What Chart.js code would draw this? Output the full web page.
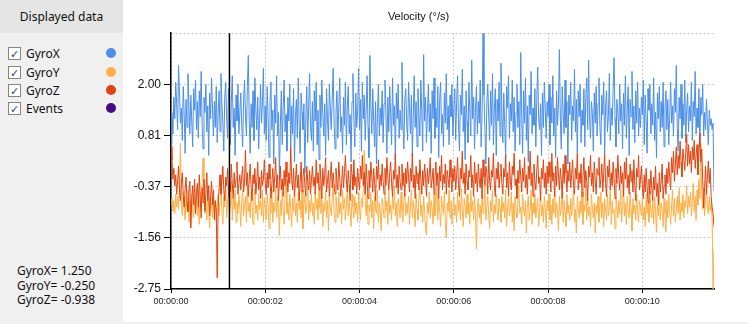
<!DOCTYPE html>
<html>
<head>
<meta charset="utf-8">
<script src="https://cdn.jsdelivr.net/npm/chart.js@4/dist/chart.umd.min.js"></script>
<style>
  html, body { margin: 0; padding: 0; }
  body {
    width: 748px; height: 324px; position: relative; overflow: hidden;
    background: #f0f0f0; font-family: "Noto Sans", "DejaVu Sans", sans-serif;
  }
  #panel { position: absolute; left: 0; top: 0; width: 123px; height: 324px; background: #f0f0f0; }
  #panel .head {
    height: 33px; line-height: 33px; background: #e5e5e5; text-align: center;
    font-size: 12px; color: #111;
  }
  .row { position: absolute; left: 8px; height: 14px; width: 110px; font-size: 12px; color: #111; }
  .box {
    position: absolute; left: 0; top: 0; width: 11px; height: 11px;
    border: 1px solid #858585; background: #fff; font-size: 11px; line-height: 11px;
    font-weight: bold; text-align: center; color: #2b3f8c;
  }
  .row .lbl { position: absolute; left: 18px; top: -2px; }
  .dot { position: absolute; left: 98px; top: 1px; width: 10px; height: 10px; border-radius: 50%; }
  #readout { position: absolute; left: 17px; top: 264px; font-size: 12px; line-height: 14.5px; color: #111; }
  #plot { position: absolute; left: 123px; top: 0; width: 625px; height: 322px; background: #fff; }
</style>
</head>
<body>
<div id="panel">
  <div class="head">Displayed data</div>
  <div id="legendRows"></div>
  <div id="readout"></div>
</div>
<div id="plot"><canvas id="velocity"></canvas></div>
<script>
// sample period of the recording, seconds
const samplePeriod = 0.02;

const seriesNames = ['GyroX', 'GyroY', 'GyroZ'];
const seriesColors = ['#4a8fe8', '#fdb045', '#e1440f'];
const eventColor = '#4b0a82';

// times (s) of the event markers
const eventTimes = [1.24];

const xTickValues = [0, 2, 4, 6, 8, 10];
const xTickLabels = ['00:00:00', '00:00:02', '00:00:04', '00:00:06', '00:00:08', '00:00:10'];
const yTickValues = [-2.75, -1.5625, -0.375, 0.8125, 2.0, 3.1875];
const yTickLabels = ['-2.75', '-1.56', '-0.37', '0.81', '2.00', ''];

const readoutValues = ['1.250', '-0.250', '-0.938'];

// one row = 0.5 s
const gyroX = [
  0.60, 1.35, 0.85, 1.70, 1.20, 2.05, 1.55, 0.95, 2.44, 1.80, 1.10, 1.45, 0.70, 1.95, 1.30, 0.40, 1.65, 1.00, 2.25, 1.50, 0.85, 1.75, 1.15, 0.55, 1.90,
  1.40, 2.10, 0.95, 1.60, 0.75, 1.85, 1.25, 2.30, 1.05, 0.50, 1.70, 1.35, 2.00, 0.90, 1.50, 0.35, 1.80, 1.20, 2.15, 1.45, 0.80, 1.60, 1.00, 1.95, 0.65,
  1.30, 1.85, 0.90, 2.25, 1.55, 1.10, 0.45, 1.70, 2.05, 1.25, 0.75, 1.90, 1.40, 0.60, 1.60, 2.20, 1.00, 1.45, 0.35, 1.75, 1.15, 2.00, 0.85, 1.35, 1.80,
  1.05, 0.55, 1.65, 2.10, 1.30, 0.80, 1.95, 2.67, 1.15, 0.40, 1.55, 1.00, 1.85, 0.70, 2.15, 1.40, 0.95, 1.70, 0.50, 1.25, 2.00, 1.10, 1.60, 2.37, 0.85,
  1.50, 0.70, 1.95, 1.20, 0.30, 1.60, 2.05, 0.95, 1.40, 0.15, 1.75, 1.10, 2.20, 0.80, 1.35, -0.20, 1.05, 1.85, 0.60, 1.45, 2.10, 0.90, 1.30, 0.45, 1.70,
  1.15, 2.00, 0.55, 1.50, 0.85, 1.90, 0.20, 1.25, 1.65, 0.75, 2.15, 1.05, 0.40, 1.80, 1.35, 0.95, 1.55, -0.05, 1.20, 1.95, 0.65, 1.45, 2.25, 1.00, 0.70,
  1.60, 0.45, 1.85, 1.15, 2.05, 0.60, 1.40, 0.25, 1.75, 1.00, 2.10, 1.30, 0.80, 1.55, 0.35, 1.90, 1.20, 0.70, 2.00, 1.45, 0.95, 1.65, 2.37, 1.10, 0.50,
  1.35, 1.85, 0.75, 1.50, 2.15, 0.90, 1.25, 0.40, 1.70, 1.05, 2.05, 0.60, 1.45, 1.95, 0.85, 1.30, 0.20, 1.60, 2.25, 1.15, 0.55, 1.80, 1.00, 1.40, 2.37,
  0.95, 1.65, 0.45, 2.05, 1.20, 1.75, 0.70, 1.40, 2.20, 1.00, 0.30, 2.67, 1.50, 0.85, 1.90, 1.15, 0.55, 1.60, 0.15, 1.35, 2.00, 0.80, 1.45, 1.05, 1.85,
  0.65, 1.55, 2.10, 1.25, 0.40, 1.70, 0.90, 1.95, 1.30, 0.60, 2.15, 1.05, 1.50, 0.25, 1.80, 1.20, 2.00, 0.75, 1.40, 0.95, 2.51, 1.15, 0.50, 1.65, 1.90,
  1.10, 0.70, 2.05, 1.45, 0.85, 1.75, 0.35, 1.30, 2.20, 1.00, 1.60, 0.55, 1.90, 1.25, 0.80, 2.10, 1.40, 0.45, 2.69, 1.15, 1.70, 0.65, 1.35, 2.00, 0.90,
  1.55, 0.40, 1.85, 1.20, 2.15, 0.75, 1.45, 1.00, 1.95, 0.30, 1.65, 2.05, 0.85, 1.30, 0.55, 1.80, 1.10, 2.25, 0.95, 1.50, 0.60, 1.75, 1.25, 2.00, 0.80,
  1.40, 1.90, 0.70, 1.60, 2.20, 1.05, 0.45, 1.75, 1.30, 2.35, 0.90, 1.50, 0.25, 1.85, 1.15, 0.65, 2.05, 1.35, 0.80, 2.56, 1.20, 1.70, 0.50, 1.45, 1.95,
  0.85, 1.60, 1.10, 2.10, 0.55, 1.35, 3.19, 1.75, 0.95, 0.15, 1.55, 2.00, 1.25, 0.70, 1.85, 1.05, 2.25, 0.60, 1.40, 1.90, 0.35, 1.65, 1.15, 2.05, 0.80,
  2.49, 1.30, 0.65, 1.80, 1.05, 0.30, 1.95, 1.45, 2.20, 0.75, 1.55, 1.15, 2.10, 0.90, 1.70, 0.45, 1.35, 2.00, 1.00, 1.60, 0.60, 2.74, 1.25, 0.40, 1.85,
  1.10, 2.15, 0.70, 1.50, 0.20, 1.75, 1.30, 2.30, 0.85, 1.45, 1.05, 1.90, 0.55, 1.65, 2.40, 1.20, 0.95, 1.55, 0.35, 1.80, 1.00, 2.05, 1.40, 0.75, 1.60,
  1.25, 2.00, 0.60, 1.70, 1.10, 2.20, 0.80, 1.45, 0.30, 1.85, 1.05, 1.55, 2.81, 1.20, 0.50, 1.95, 1.35, 0.85, 2.10, 1.00, 1.60, 0.15, 1.75, 1.30, 2.05,
  0.70, 1.50, 1.15, 2.35, 0.90, 1.65, 0.40, 1.85, 1.25, 2.00, 0.65, 1.40, 1.05, 1.90, 0.55, 1.70, 2.15, 0.95, 2.56, 1.20, 0.75, 1.60, 1.35, 0.45, 1.80,
  1.10, 1.95, 0.80, 1.55, 2.15, 1.00, 0.60, 1.75, 1.30, 2.05, 0.40, 1.50, 1.85, 0.90, 1.25, 2.25, 0.70, 1.45, 1.05, 1.90, 2.62, 1.20, 0.55, 1.65, 1.35,
  0.85, 2.00, 1.15, 1.55, 0.50, 1.80, 1.05, 2.20, 0.75, 1.40, 1.95, 0.35, 1.65, 1.25, 2.30, 0.95, 1.50, 0.65, 1.85, 1.10, 2.05, 0.80, 1.45, 1.00, 1.70,
  1.30, 2.10, 0.60, 1.75, 1.15, 0.40, 1.90, 1.40, 2.00, 0.85, 1.55, 1.05, 2.15, 0.70, 1.35, 0.30, 1.80, 1.20, 1.95, 0.90, 1.60, 1.00, 2.05, 0.55, 1.45,
  1.85, 0.95, 1.65, 0.60, 1.25, 2.05, 1.10, 1.50, 0.80, 1.90, 1.35, 2.44, 1.00, 0.45, 1.70, 1.20, 2.00, 0.75, 1.55, 1.05, 2.10, 0.65, 1.40, 1.80, 0.90,
  1.50, 1.15, 2.05, 0.70, 1.60, 1.25, 2.30, 0.85, 1.45, 1.00, 1.90, 0.55, 1.70, 1.30, 2.00, 0.80, 1.35, 0.95, 1.65, 1.10, 0.60, 1.40, 1.05, 1.20, 0.95,
  1.10, -0.48
];

const gyroY = [
  -0.80, -0.65, -0.95, -0.70, -1.00, -0.55, -0.85, -0.60, -0.90, -0.40, 0.63, -0.75, -1.05, -0.50, -0.85, -1.15, -0.60, -0.95, -0.45, -1.20, -0.70, -1.30, -0.55, -0.90, -1.10,
  -0.65, -0.95, -0.40, -1.05, -0.75, -1.25, -0.50, -0.85, -0.30, 0.29, -0.60, -1.00, -0.70, -1.15, -0.45, -0.90, -1.33, -0.65, -0.80, -1.10, -0.50, -0.95, -0.70, -1.20, -0.85,
  -0.55, -1.05, -0.75, -0.40, -0.95, -1.25, -0.60, -0.85, -0.30, -1.10, -0.70, -0.50, -1.00, -0.80, -0.25, -1.15, -0.65, -0.90, -0.45, -1.20, -0.75, -1.00, -0.55, -0.85, -1.30,
  -0.70, -0.45, -1.05, -0.80, -0.60, -1.20, -0.35, -0.95, -0.75, -1.10, -0.50, -0.85, -1.25, -0.65, -0.40, -1.00, -0.80, -1.15, -0.55, -0.90, -0.70, -1.05, -0.45, -1.20, -0.65,
  -0.90, -1.15, -0.55, -0.80, -1.35, -0.65, -1.00, -0.45, -1.20, -0.75, -0.95, -0.35, -1.10, -0.60, -0.85, -1.50, -0.70, -1.05, -0.50, -0.90, -1.25, -0.60, -0.20, -1.00, -0.75,
  -1.15, -0.55, -0.85, -1.30, -0.65, -0.95, -0.40, -1.05, -0.75, -1.20, -0.50, -0.90, -0.70, -1.10, -0.45, -1.35, -0.80, -0.60, -1.00, -0.85, -0.35, -1.15, -0.70, -0.95, -0.55,
  -1.05, -0.75, -1.25, -0.50, -0.90, -0.65, -1.15, -0.40, -0.85, -1.00, -0.60, -1.30, -0.75, -0.95, -0.45, -1.10, -0.70, -1.40, -0.55, -0.85, -1.05, -0.65, -0.30, -0.95, -1.20,
  -0.60, -0.85, -1.10, -0.50, -1.00, -0.75, -1.25, -0.45, -0.90, -0.65, -1.15, -0.80, -0.35, -1.05, -0.70, -0.95, -1.30, -0.55, -0.85, -1.10, -0.60, -1.00, -0.75, -1.20, -0.50,
  -0.90, -1.15, -0.65, -0.85, -0.40, 0.47, -0.70, -1.05, -0.55, -1.25, -0.80, -0.95, -0.50, -1.10, -0.70, -1.35, -0.60, -0.90, -1.00, -0.45, -1.20, -0.75, -0.95, -1.40, -0.65,
  -0.85, -1.10, -0.55, -0.95, -0.70, -1.25, -0.45, -1.00, -0.80, -1.15, -0.60, -0.90, -0.35, -1.05, -0.75, -1.30, -0.65, -0.85, -1.10, -0.50, -0.95, -1.20, -0.70, -0.55, -1.05,
  -0.75, -1.00, -0.60, -1.25, -0.85, -0.45, -1.10, -0.70, -0.95, -1.30, -0.55, -0.90, -1.15, -0.65, -0.40, -1.05, -0.80, -1.20, -0.60, -0.95, -1.35, -1.50, -0.75, -1.00, -0.50,
  -1.10, -0.70, -0.90, -1.25, -0.55, -1.05, -0.80, -0.35, -1.15, -0.65, -0.95, -1.30, -0.60, -0.85, -1.00, -0.50, -1.20, -1.56, -0.75, -0.95, -0.45, -1.10, -0.70, -1.25, -0.85,
  -0.60, -1.05, -0.80, -1.20, -0.50, -0.95, -0.70, -1.15, -0.40, -0.90, -1.30, -0.65, -0.85, -1.10, -0.55, -1.00, -0.75, -1.25, -0.45, -0.95, -0.70, -1.15, -0.60, -1.05, -1.82,
  -0.90, -0.65, -1.10, -0.80, -1.25, -0.50, -1.00, -0.75, -0.35, -1.15, -0.85, -0.60, -1.05, -1.35, -0.70, -0.95, -0.45, -1.20, -0.80, -1.00, -0.55, -0.90, -1.15, -0.65, -0.85,
  -1.20, -0.60, -0.95, -0.75, -1.10, -0.45, -1.30, -0.85, -0.65, -1.05, -0.90, -0.50, -1.20, -0.75, -1.40, -0.60, -0.95, -1.10, -0.70, -0.35, -1.00, -0.85, -1.25, -0.55, -0.90,
  -1.05, -0.70, -1.45, -0.80, -0.60, -1.15, -0.90, -0.45, -1.25, -0.75, -1.00, -0.55, -1.10, -0.85, -0.65, -1.30, -0.95, -0.50, -1.05, -0.80, -1.20, -0.60, -0.90, -1.35, -0.70,
  -0.95, -0.55, -1.15, -0.80, -1.25, -0.65, -1.00, -0.40, -1.10, -0.75, -0.90, -1.40, -0.60, -1.05, -0.85, -0.50, -1.20, -0.70, -0.95, -1.30, -0.55, -1.00, -0.80, -1.15, -0.65,
  -1.05, -0.75, -0.45, -1.20, -0.90, -1.45, -0.60, -0.85, -1.10, -0.70, -1.00, -0.50, -1.25, -0.80, -0.95, -0.35, -1.15, -0.65, -1.05, -0.85, -1.30, -0.55, -0.90, -1.10, -0.75,
  -1.45, -0.80, -1.00, -0.60, -1.20, -0.90, -0.50, -1.10, -0.75, -1.30, -0.65, -0.95, -1.15, -0.55, -1.05, -0.85, -0.40, -1.25, -0.70, -1.00, -0.90, -1.35, -0.60, -0.80, -1.10,
  -0.70, -1.00, -0.45, -1.20, -0.85, -0.30, -1.05, -0.75, -1.25, -0.60, -0.95, -1.10, -0.50, -0.90, -1.40, -0.65, -1.00, -0.80, -1.15, -0.55, -0.95, -1.20, -0.70, -0.85, -1.05,
  -0.65, -1.15, -0.85, -1.30, -0.55, -1.00, -0.75, -1.20, -0.45, -0.95, -1.10, -0.70, -1.25, -0.60, -0.90, -1.43, -0.80, -1.05, -0.50, -1.15, -0.75, -0.95, -1.30, -0.65, -1.00,
  -1.43, -0.70, -1.10, -0.55, -0.95, -1.25, -0.80, -0.45, -1.05, -0.65, -1.20, -0.90, -0.60, -1.00, -0.40, -1.15, -0.75, -0.95, -0.55, -1.10, -0.70, -0.85, -0.35, -1.00, -0.60,
  -0.85, -0.50, -1.05, -0.70, -0.30, -0.95, -0.60, -1.15, -0.45, -0.80, -0.20, -0.65, 0.63, -0.55, -0.90, -0.40, -1.05, -0.70, -0.35, -0.85, -1.00, -0.60, -0.95, -0.75, -1.10,
  -2.75, -1.85
];

const gyroZ = [
  0.56, 0.24, -0.20, 0.05, -0.35, -0.10, -0.55, -0.25, 0.10, -0.45, -0.70, -0.30, -0.05, -0.60, -0.85, -0.40, -0.15, -0.75, -0.95, -0.50, -0.25, -1.33, -0.65, -0.35, -0.80,
  -0.20, -1.00, -0.55, -0.30, -0.85, -0.10, -0.65, -1.10, -0.40, -0.75, -0.20, -0.95, -0.50, -0.05, -0.70, -0.35, -1.05, -0.60, -0.25, -0.80, -0.45, -1.15, -0.70, -0.90, -2.49,
  -0.85, -0.40, -0.10, -0.55, -0.25, 0.10, -0.45, -0.70, -0.15, -0.35, 0.05, -0.60, -0.20, -0.50, 0.15, -0.30, -0.65, -0.05, -0.40, -0.20, 0.20, -0.55, -0.30, -0.10, -0.45,
  -0.15, 0.10, -0.50, -0.25, 0.47, -0.35, -0.05, -0.60, -0.20, 0.15, -0.40, -0.70, -0.10, -0.30, 0.05, -0.55, -0.25, 0.20, -0.45, -0.15, -0.65, 0.00, -0.35, -0.20, 0.25,
  -0.30, -0.55, -0.05, -0.40, 0.15, -0.20, -0.65, -0.30, 0.05, -0.50, -0.15, 0.30, -0.40, -0.10, -0.70, -0.25, 0.10, -0.45, -0.20, -0.60, 0.00, -0.35, 0.20, -0.15, -0.50,
  -0.05, -0.30, 0.56, -0.20, -0.45, 0.05, -0.60, -0.25, 0.15, -0.40, -0.10, -0.70, -0.30, 0.20, -0.50, -0.15, 0.05, -0.35, -0.60, 0.10, -0.25, -0.45, 0.00, -0.55, -0.20,
  0.10, -0.35, -0.15, -0.55, 0.25, -0.30, -0.05, -0.45, 0.15, -0.20, -0.65, 0.05, -0.35, -0.10, 0.30, -0.50, -0.25, 0.00, -0.60, -0.15, 0.20, -0.40, -0.05, -0.30, -0.55,
  0.05, -0.25, -0.45, 0.20, -0.15, -0.60, -0.30, 0.10, -0.40, -0.05, 0.35, -0.20, -0.50, 0.00, -0.30, -0.70, 0.15, -0.10, -0.45, 0.25, -0.35, -0.15, -0.55, 0.05, -0.25,
  -0.45, 0.10, -0.20, 0.35, -0.35, -0.05, -0.55, 0.15, -0.25, -0.65, 0.00, -0.40, 0.20, -0.15, -0.50, 0.05, -0.30, -0.70, 0.10, -0.20, 0.25, -0.45, -0.10, -0.35, 0.15,
  -0.25, -0.55, 0.05, -0.35, 0.30, -0.15, -0.45, -0.05, 0.20, -0.30, -0.60, 0.00, -0.20, 0.40, -0.40, -0.10, -0.55, 0.10, -0.25, -0.45, 0.15, -0.35, -0.05, -0.60, 0.05,
  -0.30, 0.20, -0.15, -0.50, 0.05, -0.25, 0.40, -0.40, -0.10, -0.65, 0.10, -0.30, -0.05, -0.45, 0.25, -0.20, -0.55, 0.00, -0.35, 0.15, -0.15, -0.60, 0.05, -0.30, -0.10,
  0.30, -0.40, -0.20, 0.05, -0.55, -0.15, 0.20, -0.35, -0.05, -0.65, 0.10, -0.25, 0.35, -0.45, -0.10, -0.30, 0.15, -0.55, 0.00, -0.20, -0.40, 0.25, -0.15, -0.50, 0.05,
  -0.25, 0.10, -0.45, -0.10, 0.30, -0.35, -0.60, 0.05, -0.20, 0.45, -0.30, -0.05, -0.55, 0.15, -0.25, -0.45, 0.00, -0.15, 0.35, -0.40, -0.10, -0.60, 0.20, -0.30, -0.05,
  -0.50, 0.15, -0.20, -0.40, 0.05, -0.65, 0.25, -0.15, -0.35, 0.10, -0.05, -0.55, 0.30, -0.25, -0.45, 0.00, -0.15, 0.40, -0.35, -0.60, 0.05, -0.20, 0.20, -0.40, -0.10,
  0.15, -0.30, -0.55, 0.05, -0.15, 0.35, -0.40, -0.05, -0.60, 0.20, -0.25, -0.45, 0.10, -0.10, 0.40, -0.35, -0.20, -0.65, 0.00, -0.30, 0.25, -0.15, -0.50, 0.05, -0.25,
  0.30, -0.40, -0.10, -0.55, 0.10, -0.20, 0.45, -0.35, -0.05, -0.60, 0.15, -0.25, -0.45, 0.00, 0.35, -0.30, -0.15, -0.70, 0.05, -0.20, 0.25, -0.40, -0.05, -0.55, 0.10,
  -0.30, 0.20, -0.15, -0.50, 0.40, -0.25, -0.05, -0.60, 0.10, -0.35, 0.30, -0.10, -0.45, 0.05, -0.20, -0.65, 0.15, -0.30, 0.35, -0.05, -0.50, 0.00, -0.25, 0.20, -0.40,
  -0.10, 0.25, -0.35, -0.55, 0.05, -0.20, 0.40, -0.45, -0.05, -0.30, 0.15, -0.60, -0.15, 0.30, -0.40, 0.00, -0.25, -0.70, 0.10, -0.15, 0.35, -0.35, -0.05, -0.50, 0.20,
  -0.25, -0.55, 0.05, -0.10, 0.30, -0.40, -0.20, 0.15, -0.50, -0.05, 0.40, -0.30, -0.60, 0.10, -0.15, 0.25, -0.45, -0.05, -0.35, 0.20, -0.20, -0.65, 0.05, -0.30, 0.35,
  -0.15, -0.45, 0.10, -0.30, -0.05, -0.60, 0.20, -0.20, 0.30, -0.40, -0.10, -0.55, 0.15, -0.25, 0.00, -0.50, 0.25, -0.35, -0.70, 0.05, -0.15, 0.35, -0.45, -0.20, 0.10,
  -0.40, -0.65, -0.10, -0.50, 0.05, -0.35, -0.75, -0.20, -0.55, 0.00, -0.40, -0.70, -0.15, -0.45, 0.10, -0.60, -0.30, -0.80, -0.05, -0.50, -0.25, 0.15, -0.65, -0.35, -0.10,
  -0.55, 0.05, -0.30, 0.20, -0.15, -0.45, 0.30, -0.05, 0.45, -0.25, 0.15, 0.55, -0.10, 0.35, 0.05, 0.68, 0.20, -0.15, 0.50, 0.25, 0.00, 0.40, 0.84, 0.10, 0.60,
  0.15, 0.45, -0.05, 0.55, 0.25, 0.70, 0.05, 0.35, 0.60, -0.10, 0.40, 0.87, 0.20, 0.50, -0.20, -0.87, -0.40, 0.10, -0.55, -0.15, 0.22, -0.30, 0.05, -0.60, -0.85,
  -1.00, -1.30
];

/**
 * Builds the left legend panel.
 */
function buildPanel() {
  const rows = document.getElementById('legendRows');
  const names = seriesNames.concat(['Events']);
  const colors = seriesColors.concat([eventColor]);
  const tops = [47, 66, 84, 102];
  names.forEach((name, i) => {
    const row = document.createElement('div');
    row.className = 'row';
    row.style.top = tops[i] + 'px';
    row.innerHTML = `<span class="box">&#10003;</span><span class="lbl">${name}</span>` +
      `<span class="dot" style="background:${colors[i]}"></span>`;
    rows.appendChild(row);
  });
  document.getElementById('readout').innerHTML = seriesNames
    .map((n, i) => `${n}= ${readoutValues[i]}`).join('<br>');
}

/**
 * Turns a sample list into {x, y} points.
 * @param {Array<number>} values
 * @returns {Array<Object>}
 */
function toPoints(values) {
  return values.map((v, i) => ({ x: +(i * samplePeriod).toFixed(2), y: v }));
}

// black vertical lines at event times
const eventLines = {
  id: 'eventLines',
  afterDatasetsDraw(chart) {
    const { ctx, chartArea, scales: { x } } = chart;
    ctx.save();
    ctx.strokeStyle = '#000';
    ctx.lineWidth = 1.5;
    eventTimes.forEach(t => {
      const px = x.getPixelForValue(t);
      ctx.beginPath();
      ctx.moveTo(px, chartArea.top);
      ctx.lineTo(px, chartArea.bottom);
      ctx.stroke();
    });
    ctx.restore();
  }
};

function renderChart() {
  const series = [gyroX, gyroY, gyroZ];
  const lastT = (gyroX.length - 1) * samplePeriod;
  return new Chart(document.getElementById('velocity'), {
    type: 'line',
    data: {
      datasets: series.map((vals, i) => ({
        label: seriesNames[i],
        data: toPoints(vals),
        borderColor: seriesColors[i],
        borderWidth: 1,
        pointRadius: 0,
        tension: 0,
        order: 2 - i
      }))
    },
    options: {
      responsive: true,
      maintainAspectRatio: false,
      animation: false,
      layout: { padding: { left: 0, right: 34, top: 0, bottom: 0 } },
      plugins: {
        legend: { display: false },
        tooltip: { enabled: false },
        title: {
          display: true,
          text: 'Velocity (°/s)',
          color: '#111',
          font: { family: 'Liberation Sans', size: 11, weight: 'normal' },
          padding: { top: 10, bottom: 10 }
        }
      },
      scales: {
        x: {
          type: 'linear',
          min: 0,
          max: lastT,
          afterBuildTicks: s => { s.ticks = xTickValues.map(v => ({ value: v })); },
          afterFit: s => { s.height = 33; },
          ticks: {
            callback: (v, i) => xTickLabels[i],
            color: '#222',
            font: { family: 'Liberation Sans', size: 9 },
            padding: 3,
            maxRotation: 0
          },
          grid: { color: '#c8c8c8', lineWidth: 1, tickColor: '#000', tickLength: 4 },
          border: { display: true, color: '#000', width: 1.5, dash: [2, 2] }
        },
        y: {
          min: yTickValues[0],
          max: yTickValues[yTickValues.length - 1],
          afterBuildTicks: s => { s.ticks = yTickValues.map(v => ({ value: v })); },
          afterFit: s => { s.width = 48; },
          ticks: {
            callback: (v, i) => yTickLabels[i],
            color: '#111',
            font: { family: 'Liberation Sans', size: 12 },
            padding: 3
          },
          grid: {
            color: '#c8c8c8',
            lineWidth: 1,
            tickLength: 7,
            tickColor: c => (c.tick && yTickLabels[c.index] === '' ? 'rgba(0,0,0,0)' : '#000')
          },
          border: { display: true, color: '#000', width: 1.5, dash: [2, 2] }
        }
      }
    },
    plugins: [eventLines]
  });
}

buildPanel();
renderChart();
</script>
</body>
</html>
